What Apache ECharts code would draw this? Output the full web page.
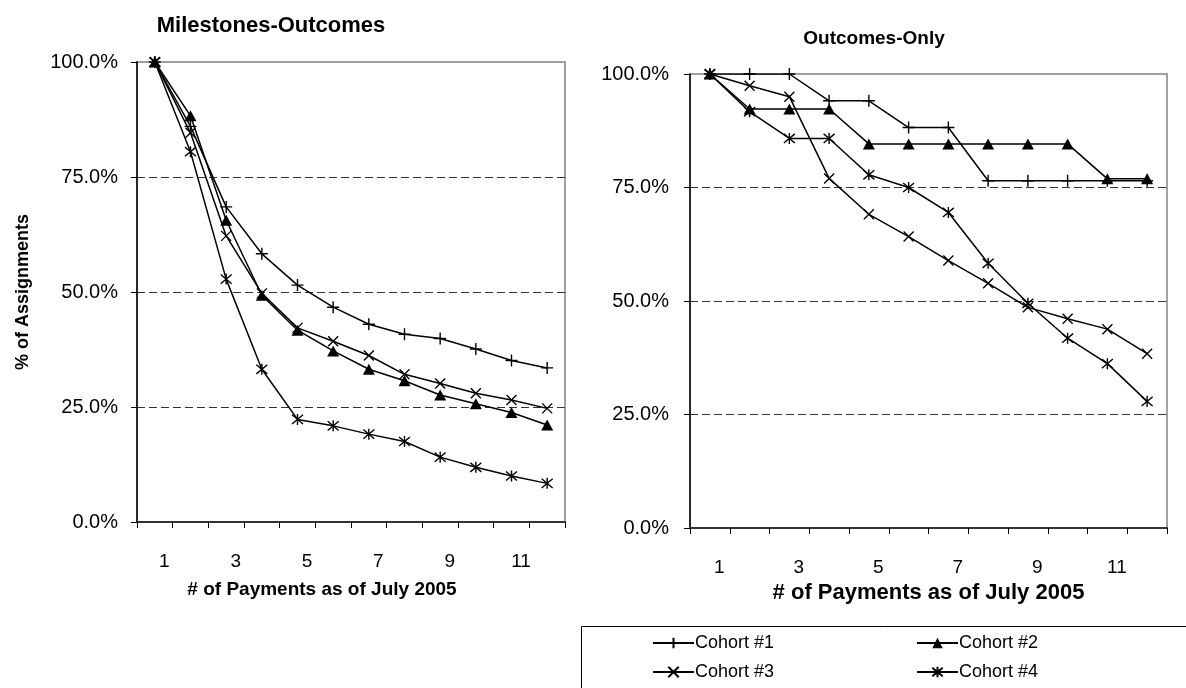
<!DOCTYPE html>
<html>
<head>
<meta charset="utf-8">
<script src="https://cdn.jsdelivr.net/npm/echarts@6/dist/echarts.min.js"></script>
<style>
html,body{margin:0;padding:0;background:#fff;}
#chart{width:1186px;height:688px;}
</style>
</head>
<body>
<div id="chart"></div>
<script>
// ---- data ----
const categories = ['1','2','3','4','5','6','7','8','9','10','11','12'];
const seriesNames = ['Cohort #1','Cohort #2','Cohort #3','Cohort #4'];
const yTicks = [0, 25, 50, 75, 100];

const leftCohort1 = [100, 86.0, 68.5, 58.3, 51.5, 46.7, 43.0, 40.8, 39.9, 37.6, 35.1, 33.5];
const leftCohort2 = [100, 88.3, 65.6, 49.3, 41.7, 37.2, 33.2, 30.7, 27.6, 25.7, 23.8, 21.1];
const leftCohort3 = [100, 84.6, 62.2, 49.7, 42.2, 39.3, 36.2, 32.1, 30.1, 28.0, 26.5, 24.7];
const leftCohort4 = [100, 80.5, 52.8, 33.2, 22.3, 20.9, 19.1, 17.5, 14.1, 11.9, 10.0, 8.4];

const rightCohort1 = [100, 100, 100, 94.1, 94.1, 88.2, 88.2, 76.5, 76.5, 76.5, 76.5, 76.5];
const rightCohort2 = [100, 92.3, 92.3, 92.3, 84.6, 84.6, 84.6, 84.6, 84.6, 84.6, 76.9, 76.9];
const rightCohort3 = [100, 97.4, 95.0, 77.0, 69.1, 64.2, 58.9, 53.9, 48.6, 46.1, 43.8, 38.4];
const rightCohort4 = [100, 91.7, 85.8, 85.8, 77.8, 75.0, 69.5, 58.3, 49.5, 41.8, 36.2, 27.9];

// ---- styling ----
const FONT = '"Liberation Sans", Arial, Helvetica, sans-serif';
const symbols = [
  'path://M5,0 L5,10 M0,5 L10,5',
  'triangle',
  'path://M0,0 L10,10 M10,0 L0,10',
  'path://M0,0 L10,10 M10,0 L0,10 M5,-1 L5,11'
];
const symbolSizes = [[12,12],[12,11],[10,10],[11,11]];

function makeSeries(name, data, idx, gridIdx) {
  return {
    type: 'line',
    name: name,
    xAxisIndex: gridIdx,
    yAxisIndex: gridIdx,
    data: data,
    symbol: symbols[idx],
    symbolSize: symbolSizes[idx],
    showAllSymbol: true,
    lineStyle: { color: '#000', width: 1.5 },
    itemStyle: { color: '#000', borderColor: '#000', borderWidth: idx === 1 ? 0 : 1.4 },
    emphasis: { disabled: true },
    animation: false
  };
}

const leftData = [leftCohort1, leftCohort2, leftCohort3, leftCohort4];
const rightData = [rightCohort1, rightCohort2, rightCohort3, rightCohort4];

function xAxisCfg(gridIdx, nameSize, nameGap, namePad) {
  return {
    type: 'category',
    gridIndex: gridIdx,
    data: categories,
    boundaryGap: true,
    axisLine: { lineStyle: { color: '#333', width: 2 } },
    axisTick: { show: true, interval: 0, length: 6, lineStyle: { color: '#000', width: 1 } },
    axisLabel: { interval: 1, color: '#000', fontSize: 19, fontFamily: FONT, margin: 30, padding: [0,0,0,19] },
    name: '# of Payments as of July 2005',
    nameLocation: 'middle',
    nameGap: nameGap,
    nameTextStyle: { color: '#000', fontSize: nameSize, fontWeight: 'bold', fontFamily: FONT, padding: namePad }
  };
}

function yAxisCfg(gridIdx, withName, margin) {
  const cfg = {
    type: 'value',
    gridIndex: gridIdx,
    min: yTicks[0],
    max: yTicks[yTicks.length - 1],
    interval: yTicks[1] - yTicks[0],
    axisLine: { show: true, lineStyle: { color: '#000', width: 1.5 } },
    axisTick: { show: true, length: 6, lineStyle: { color: '#000' } },
    axisLabel: { color: '#000', fontSize: 20, fontFamily: FONT, margin: margin,
      formatter: v => v.toFixed(1) + '%' },
    splitLine: { show: true, lineStyle: { color: ['rgba(0,0,0,0)','#333','#333','#333','rgba(0,0,0,0)'], type: [8,4], width: 1 } }
  };
  if (withName) {
    cfg.name = '% of Assignments';
    cfg.nameLocation = 'middle';
    cfg.nameGap = 105;
    cfg.nameTextStyle = { color: '#000', fontSize: 18, fontWeight: 'bold', fontFamily: FONT };
  }
  return cfg;
}

const series = [];
seriesNames.forEach((n, i) => series.push(makeSeries(n, leftData[i], i, 0)));
seriesNames.forEach((n, i) => series.push(makeSeries(n, rightData[i], i, 1)));

const legendCommon = {
  orient: 'vertical',
  itemWidth: 41,
  itemHeight: 13,
  itemGap: 11,
  selectedMode: false,
  textStyle: { color: '#000', fontSize: 18, fontFamily: FONT, padding: [0,0,0,-4] }
};

const option = {
  backgroundColor: '#fff',
  animation: false,
  title: [
    { text: 'Milestones-Outcomes', left: 266, top: 10, textAlign: 'center',
      textStyle: { fontSize: 22, fontWeight: 'bold', color: '#000', fontFamily: FONT } },
    { text: 'Outcomes-Only', left: 869, top: 24, textAlign: 'center',
      textStyle: { fontSize: 19, fontWeight: 'bold', color: '#000', fontFamily: FONT } }
  ],
  grid: [
    { left: 137, top: 62, width: 428, height: 460, show: true, borderColor: '#a0a0a0', borderWidth: 2, backgroundColor: '#fff' },
    { left: 690, top: 74, width: 477, height: 454, show: true, borderColor: '#a0a0a0', borderWidth: 2, backgroundColor: '#fff' }
  ],
  xAxis: [ xAxisCfg(0, 19, 58, [0, 58, 0, 0]), xAxisCfg(1, 22, 54, [0, 0, 0, 0]) ],
  yAxis: [ yAxisCfg(0, true, 19), yAxisCfg(1, false, 21) ],
  legend: [
    Object.assign({}, legendCommon, { data: ['Cohort #1', 'Cohort #3'], left: 647, top: 629 }),
    Object.assign({}, legendCommon, { data: ['Cohort #2', 'Cohort #4'], left: 911, top: 629 })
  ],
  graphic: [
    { type: 'rect', left: 581, top: 626, shape: { width: 620, height: 80 }, z: -1,
      style: { fill: '#fff', stroke: '#000', lineWidth: 1 } }
  ],
  series: series
};

const chart = echarts.init(document.getElementById('chart'), null, { renderer: 'canvas' });
chart.setOption(option);
</script>
</body>
</html>
